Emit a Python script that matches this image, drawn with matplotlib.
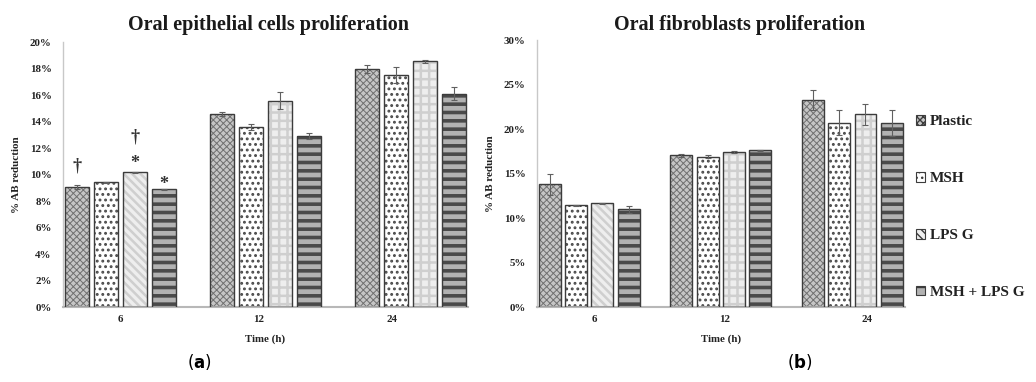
import matplotlib
matplotlib.use("Agg")
import matplotlib.pyplot as plt
import numpy as np
from matplotlib.ticker import PercentFormatter

times = ["6", "12", "24"]
series = ["Plastic", "MSH", "LPS G", "MSH + LPS G"]

epi_vals = {
    "Plastic": [9.03, 14.57, 18.0],
    "MSH": [9.41, 13.6, 17.5],
    "LPS G": [10.16, 15.57, 18.55],
    "MSH + LPS G": [8.9, 12.9, 16.1],
}
epi_err = {
    "Plastic": [0.15, 0.15, 0.3],
    "MSH": [0.05, 0.2, 0.6],
    "LPS G": [0.05, 0.65, 0.1],
    "MSH + LPS G": [0.03, 0.25, 0.5],
}
fib_vals = {
    "Plastic": [13.79, 17.04, 23.3],
    "MSH": [11.43, 16.9, 20.7],
    "LPS G": [11.65, 17.42, 21.65],
    "MSH + LPS G": [10.98, 17.6, 20.7],
}
fib_err = {
    "Plastic": [1.2, 0.15, 1.1],
    "MSH": [0.05, 0.15, 1.4],
    "LPS G": [0.08, 0.12, 1.15],
    "MSH + LPS G": [0.4, 0.05, 1.45],
}
# significance marks on epithelial 6 h: (series, time index, symbol)
epi_marks = [("Plastic", 0, "†"), ("LPS G", 0, "*"), ("LPS G", 0, "†"),
             ("MSH + LPS G", 0, "*")]
# vertical offsets of those marks above the error bar, in points (layout only)
mark_offsets = [14, 6, 25, 3]

styles = {
    "Plastic": dict(face="#c6c6c6", hcol="#707070", hatch=["xxxxx"] * 3, hlw=0.7),
    "MSH": dict(face="#ffffff", hcol="#4a4a4a", hatch=["..."] * 3, hlw=1.3),
    "LPS G": dict(face="#eeeeee", hcol="#cfcfcf", hatch=["\\\\\\\\", "++", "++"], hlw=1.8),
    "MSH + LPS G": dict(face="#b2b2b2", hcol="#4a4a4a", hatch=["--"] * 3, hlw=2.6),
}

serif = "Liberation Serif"
step = 0.2
width = 0.167
# label placement (layout only): offsets of category labels from group centres
tick_shift_1 = [0.0, -0.05, -0.125]
tick_shift_2 = [0.04, 0.03, 0.11]

fig = plt.figure(figsize=(10.36, 3.82), dpi=100)
ax1 = fig.add_axes([0.0605, 0.196, 0.3915, 0.694])
ax2 = fig.add_axes([0.518, 0.196, 0.3555, 0.699])


def set_hlw(p, lw):
    try:
        p.set_hatch_linewidth(lw)
    except AttributeError:
        pass


def draw(ax, vals, errs, ymax, ystep, title, tshift, tpad, tx):
    x = np.arange(len(times))
    bars_by = {}
    for i, s in enumerate(series):
        st = styles[s]
        xs = x + (i - 1.5) * step
        with plt.rc_context({"hatch.linewidth": st["hlw"], "hatch.color": st["hcol"]}):
            b = ax.bar(xs, vals[s], width, color=st["face"], edgecolor=st["hcol"],
                       linewidth=0, zorder=2, label=s)
            for p, h in zip(b, st["hatch"]):
                p.set_hatch(h)
                set_hlw(p, st["hlw"])
        ax.bar(xs, vals[s], width, facecolor="none", edgecolor="#3c3c3c",
               linewidth=1.0, zorder=3)
        ax.errorbar(xs, vals[s], yerr=errs[s], fmt="none", ecolor="#606060",
                    elinewidth=0.8, capsize=2.2, capthick=0.8, zorder=4)
        bars_by[s] = xs
    ax.set_xlim(-0.4, 2.4)
    ax.set_ylim(0, ymax)
    ax.set_yticks(np.arange(0, ymax + 0.01, ystep))
    ax.yaxis.set_major_formatter(PercentFormatter(decimals=0))
    ax.set_xticks(x + np.array(tshift))
    ax.set_xticklabels(times)
    ax.tick_params(length=0, labelsize=7.8, pad=6)
    ax.tick_params(axis="y", pad=8)
    for lab in ax.get_xticklabels() + ax.get_yticklabels():
        lab.set_fontfamily(serif)
        lab.set_fontweight("bold")
        lab.set_color("#222222")
    for sp in ["top", "right"]:
        ax.spines[sp].set_visible(False)
    ax.spines["left"].set_color("#c8c8c8")
    ax.spines["left"].set_linewidth(1.0)
    ax.spines["bottom"].set_color("#b8b8b8")
    ax.spines["bottom"].set_linewidth(1.5)
    ax.set_xlabel("Time (h)", fontfamily=serif, fontweight="bold", fontsize=7.8,
                  color="#222222", labelpad=7)
    ax.set_ylabel("% AB reduction", fontfamily=serif, fontweight="bold", fontsize=8,
                  color="#222222", labelpad=6)
    ax.set_title(title, fontfamily=serif, fontweight="bold", fontsize=14.5,
                 color="#1a1a1a", pad=tpad, x=tx)
    return bars_by


pos1 = draw(ax1, epi_vals, epi_err, 20, 2, "Oral epithelial cells proliferation",
            tick_shift_1, 9, 0.507)
pos2 = draw(ax2, fib_vals, fib_err, 30, 5, "Oral fibroblasts proliferation",
            tick_shift_2, 7.6, 0.552)

for (s, ti, sym), off in zip(epi_marks, mark_offsets):
    top = epi_vals[s][ti] + epi_err[s][ti]
    ax1.annotate(sym, (pos1[s][ti], top), xytext=(0, off), textcoords="offset points",
                 ha="center", va="center", fontsize=13, fontweight="bold",
                 fontfamily=serif, color="#333333", zorder=5)

handles, labels = ax2.get_legend_handles_labels()
leg = fig.legend(handles, labels, loc="center left", bbox_to_anchor=(0.871, 0.458),
                 frameon=False, handlelength=0.6, handleheight=0.6, handletextpad=0.3,
                 labelspacing=2.85, prop={"family": serif, "weight": "bold", "size": 11})
for t in leg.get_texts():
    t.set_color("#222222")
for h in leg.legend_handles:
    h.set_edgecolor("#3c3c3c")
    h.set_linewidth(0.8)

fig.text(0.192, 0.052, r"($\mathbf{a}$)", fontsize=12, ha="center", va="center")
fig.text(0.772, 0.052, r"($\mathbf{b}$)", fontsize=12, ha="center", va="center")

fig.savefig("out.png", dpi=100, facecolor="white")
